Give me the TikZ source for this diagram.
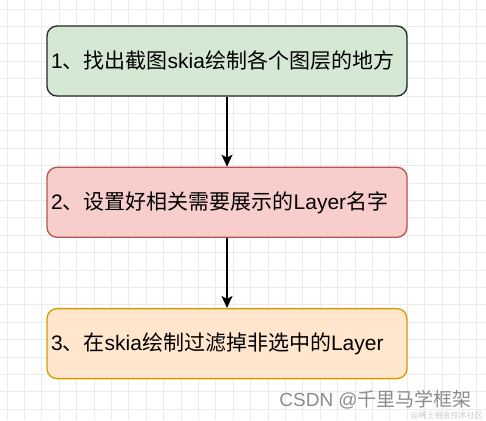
\documentclass[tikz,border=0pt]{standalone}
\usepackage{fontspec}
\setmainfont{Liberation Sans}
\newfontfamily\cjk{Noto Sans CJK SC}
\usetikzlibrary{positioning}
\usetikzlibrary{arrows.meta}

\definecolor{greenfill}{HTML}{D5E8D4}
\definecolor{redfill}{HTML}{F8CECC}
\definecolor{redline}{HTML}{B85450}
\definecolor{orangefill}{HTML}{FFE6CC}
\definecolor{orangeline}{HTML}{D79B00}

\tikzset{
  stepbox/.style={draw, rounded corners=10pt, line width=1.3pt,
    minimum width=360pt, minimum height=70pt, text width=352pt,
    inner sep=4pt, align=left, font=\fontsize{21}{25}\selectfont},
  gridline/.style={draw=black!8, line width=0.8pt},
  flow/.style={-{Stealth[length=12pt,width=11pt,inset=3pt]}, line width=1.3pt},
}

\begin{document}
\begin{tikzpicture}[x=1pt, y=1pt]

\useasboundingbox[fill=white] (0,0) rectangle (486,-420);

% background grid
\foreach \gx in {7,24.4,...,486} \draw[gridline] (\gx,0) -- (\gx,-420);
\foreach \gy in {-9,-26.4,...,-420} \draw[gridline] (0,\gy) -- (486,\gy);

% step 1
\node[stepbox, fill=greenfill, draw=black!85] (find) at (227,-61)
  {1{\cjk 、找出截图}skia{\cjk 绘制各个图层的地方}};

% step 2
\node[stepbox, fill=redfill, draw=redline, below=70pt of find] (name)
  {2{\cjk 、设置好相关需要展示的}Layer{\cjk 名字}};
\draw[flow] (find) -- (name);

% step 3
\node[stepbox, fill=orangefill, draw=orangeline, below=70pt of name] (filter)
  {3{\cjk 、在}skia{\cjk 绘制过滤掉非选中的}Layer};
\draw[flow] (name) -- (filter);

% watermark
\node[anchor=base east, inner sep=0pt, text=black!45, font=\fontsize{19}{22}\selectfont]
  (csdn) at (472,-406) {CSDN @{\cjk 千里马学框架}};
\node[anchor=base east, inner sep=0pt, text=black!20, font=\fontsize{8}{10}\selectfont]
  (juejin) at (483,-418.5) {@{\cjk 稀土掘金技术社区}};
\end{tikzpicture}
\end{document}
